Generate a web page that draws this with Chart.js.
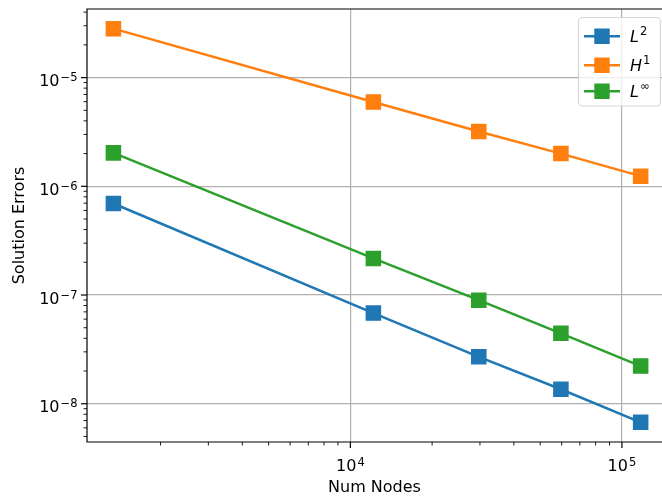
<!DOCTYPE html>
<html><head><meta charset="utf-8">
<script src="https://cdn.jsdelivr.net/npm/chart.js@4"></script>
<style>
html,body{margin:0;padding:0;background:#fff;overflow:hidden;}
canvas{display:block;}
</style></head><body>
<canvas id="c" width="662" height="500" style="width:662px;height:500px"></canvas>
<script>
const numNodes = [1341, 12155, 29710, 59600, 117200];
const errL2 = [6.95e-7, 6.82e-8, 2.70e-8, 1.36e-8, 6.75e-9];
const errH1 = [2.82e-5, 5.97e-6, 3.19e-6, 2.00e-6, 1.24e-6];
const errLinf = [2.03e-6, 2.17e-7, 8.97e-8, 4.44e-8, 2.22e-8];
const seriesLabels = ['L²', 'H¹', 'L∞'];
const legendBase = ['L', 'H', 'L'];
const legendSup = ['2', '1', '∞'];
const seriesColors = ['#1f77b4', '#ff7f0e', '#2ca02c'];
const tickBase = '10';
const xTickValues = [1e4, 1e5];
const xTickExps = ['4', '5'];
const yTickValues = [1e-8, 1e-7, 1e-6, 1e-5];
const yTickExps = ['−8', '−7', '−6', '−5'];
const xTitle = 'Num Nodes';
const yTitle = 'Solution Errors';

const FONT = "'DejaVu Sans'";
Chart.defaults.font.family = FONT;
Chart.defaults.font.size = 16;
Chart.defaults.color = '#000';

function isNice(v) {
  const e = Math.floor(Math.log10(v) + 1e-9);
  const s = v / Math.pow(10, e);
  return Math.abs(s - Math.round(s)) < 1e-6;
}
function isMajor(v) {
  const l = Math.log10(v);
  return Math.abs(l - Math.round(l)) < 1e-6;
}

const seriesData = [errL2, errH1, errLinf];
const datasets = seriesData.map((arr, k) => ({
  label: seriesLabels[k],
  data: arr.map((y, i) => ({x: numNodes[i], y})),
  borderColor: seriesColors[k],
  backgroundColor: seriesColors[k],
  borderWidth: 2.5,
  pointStyle: 'rect',
  pointRadius: 10,
  pointBorderWidth: 1.4,
  pointHoverRadius: 10,
  tension: 0
}));

function drawPow(ctx, exp, x, baseline, align) {
  ctx.font = '16px ' + FONT;
  const wb = ctx.measureText(tickBase).width;
  ctx.font = '11.5px ' + FONT;
  const we = ctx.measureText(exp).width;
  const total = wb + 1 + we;
  let x0 = align === 'right' ? x - total : x - total / 2;
  ctx.textAlign = 'left';
  ctx.textBaseline = 'alphabetic';
  ctx.font = '16px ' + FONT;
  ctx.fillText(tickBase, x0, baseline);
  ctx.font = '11.5px ' + FONT;
  ctx.fillText(exp, x0 + wb + 1, baseline - 5);
}

const tickPlugin = {
  id: 'ticksAndFrame',
  afterDraw(chart) {
    const ctx = chart.ctx, a = chart.chartArea;
    const xs = chart.scales.x, ys = chart.scales.y;
    ctx.save();
    ctx.strokeStyle = '#000';
    xs.ticks.forEach(t => {
      const px = xs.getPixelForValue(t.value);
      const maj = isMajor(t.value);
      ctx.lineWidth = maj ? 1.2 : 0.9;
      ctx.beginPath();
      ctx.moveTo(px, a.bottom);
      ctx.lineTo(px, a.bottom + (maj ? 6 : 3.5));
      ctx.stroke();
    });
    ys.ticks.forEach(t => {
      const py = ys.getPixelForValue(t.value);
      const maj = isMajor(t.value);
      ctx.lineWidth = maj ? 1.2 : 0.9;
      ctx.beginPath();
      ctx.moveTo(a.left, py);
      ctx.lineTo(a.left - (maj ? 6 : 3.5), py);
      ctx.stroke();
    });
    // tick labels 10^n
    ctx.fillStyle = '#000';
    xTickValues.forEach((v, i) => {
      drawPow(ctx, xTickExps[i], xs.getPixelForValue(v), a.bottom + 28.7, 'center');
    });
    yTickValues.forEach((v, i) => {
      drawPow(ctx, yTickExps[i], a.left - 9.5, ys.getPixelForValue(v) + 8.6, 'right');
    });
    // frame (right spine lies just beyond the visible area)
    ctx.lineWidth = 1.2;
    ctx.beginPath();
    ctx.moveTo(a.right + 2, a.top);
    ctx.lineTo(a.left, a.top);
    ctx.lineTo(a.left, a.bottom);
    ctx.lineTo(a.right + 2, a.bottom);
    ctx.stroke();

    // legend
    const bx = 578.5, by = 17.5, bw = 82, bh = 88.5, r = 4;
    ctx.beginPath();
    ctx.moveTo(bx + r, by);
    ctx.lineTo(bx + bw - r, by);
    ctx.arcTo(bx + bw, by, bx + bw, by + r, r);
    ctx.lineTo(bx + bw, by + bh - r);
    ctx.arcTo(bx + bw, by + bh, bx + bw - r, by + bh, r);
    ctx.lineTo(bx + r, by + bh);
    ctx.arcTo(bx, by + bh, bx, by + bh - r, r);
    ctx.lineTo(bx, by + r);
    ctx.arcTo(bx, by, bx + r, by, r);
    ctx.closePath();
    ctx.fillStyle = 'rgba(255,255,255,0.8)';
    ctx.fill();
    ctx.strokeStyle = 'rgba(204,204,204,0.8)';
    ctx.lineWidth = 1.2;
    ctx.stroke();
    const rows = [36.3, 65.3, 91.3];
    rows.forEach((ry, k) => {
      ctx.strokeStyle = seriesColors[k];
      ctx.lineWidth = 2.5;
      ctx.beginPath();
      ctx.moveTo(584, ry);
      ctx.lineTo(620, ry);
      ctx.stroke();
      ctx.fillStyle = seriesColors[k];
      ctx.lineWidth = 1.4;
      ctx.beginPath();
      ctx.rect(602 - 7, ry - 7, 14, 14);
      ctx.fill();
      ctx.stroke();
      ctx.fillStyle = '#000';
      ctx.textBaseline = 'alphabetic';
      ctx.textAlign = 'left';
      ctx.font = 'italic 16px ' + FONT;
      ctx.fillText(legendBase[k], 630, ry + 6);
      const w = ctx.measureText(legendBase[k]).width;
      ctx.font = '11.5px ' + FONT;
      ctx.fillText(legendSup[k], 630 + w + 1, ry - 1);
    });
    ctx.restore();
  }
};

new Chart(document.getElementById('c'), {
  type: 'line',
  data: {datasets},
  options: {
    responsive: false,
    animation: false,
    layout: {autoPadding: false, padding: {top: 9, right: 0, left: 0, bottom: 0}},
    plugins: {legend: {display: false}, tooltip: {enabled: false}},
    scales: {
      x: {
        type: 'logarithmic',
        min: 1072,
        max: 140450,
        afterBuildTicks: s => { s.ticks = s.ticks.filter(t => isNice(t.value)); },
        afterFit: s => { s.height = 58; s.paddingLeft = 0; s.paddingRight = 0; },
        grid: {
          drawTicks: false,
          color: c => (c.tick && isMajor(c.tick.value)) ? '#b0b0b0' : 'rgba(0,0,0,0)',
          lineWidth: 1.2
        },
        border: {display: false},
        ticks: {display: false, autoSkip: false, maxRotation: 0},
        title: {display: true, text: xTitle, font: {size: 16}, padding: {top: 0, bottom: 3}}
      },
      y: {
        type: 'logarithmic',
        min: 4.446e-9,
        max: 4.276e-5,
        afterBuildTicks: s => { s.ticks = s.ticks.filter(t => isNice(t.value)); },
        afterFit: s => { s.width = 87; s.paddingTop = 0; s.paddingBottom = 0; s.paddingLeft = 0; s.paddingRight = 0; },
        grid: {
          drawTicks: false,
          color: c => (c.tick && isMajor(c.tick.value)) ? '#b0b0b0' : 'rgba(0,0,0,0)',
          lineWidth: 1.2
        },
        border: {display: false},
        ticks: {display: false, autoSkip: false},
        title: {display: true, text: yTitle, font: {size: 16}, padding: {top: 10, bottom: 0}}
      }
    }
  },
  plugins: [tickPlugin]
});
</script>
</body></html>
